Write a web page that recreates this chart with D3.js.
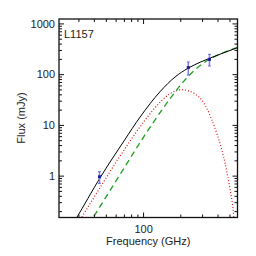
<!DOCTYPE html>
<html><head><meta charset="utf-8">
<script src="https://cdn.jsdelivr.net/npm/d3@7"></script>
<style>body{margin:0;background:#fff}svg{display:block}text{font-family:"Liberation Sans",Arial,sans-serif;fill:#222}</style>
</head><body><svg id="c" width="256" height="256"></svg>
<script>
// Data
const totalFreq = [25, 28.4, 44.5, 69.5, 93.7, 136, 180, 229, 287, 345, 440, 582];
const totalFlux = [0.087, 0.144, 0.93, 4.95, 14.6, 46.3, 90.2, 134, 176, 212, 267, 344];
const coldFreq = [29, 31, 78.8, 102.8, 136, 164, 204, 231, 261, 296, 325, 357, 391, 430, 457, 477, 502, 527, 545];
const coldFlux = [0.111, 0.144, 5.13, 12.7, 28.6, 42.4, 50.5, 48.0, 41.5, 31.6, 21.7, 12.7, 6.96, 3.26, 1.78, 1.05, 0.53, 0.248, 0.1];
const warmFreq = [36, 38.5, 64.5, 93.7, 120, 164, 210, 261, 345, 440, 582];
const warmFlux = [0.111, 0.144, 1.075, 4.6, 11.5, 33.8, 72.8, 125, 204, 270, 347];
const obsFreq = [44, 230, 341];
const obsFlux = [0.97, 138, 200];
const obsErr = [0.25, 40, 52];
const xMajor = [100];
const xMinor = [30, 40, 50, 60, 70, 80, 90, 200, 300, 400, 500];
const yMajor = [1, 10, 100, 1000];
const yMinor = [0.2,0.3,0.4,0.5,0.6,0.7,0.8,0.9,2,3,4,5,6,7,8,9,20,30,40,50,60,70,80,90,200,300,400,500,600,700,800,900];
const sourceName = "L1157";

const L = 59, R = 237.5, T = 19, B = 217.5;
const x = d3.scaleLog().domain([20.7, 575]).range([L, R]);
const y = d3.scaleLog().domain([0.153, 1250]).range([B, T]);
const svg = d3.select("#c");

svg.append("clipPath").attr("id","clip").append("rect")
  .attr("x", L).attr("y", T).attr("width", R-L).attr("height", B-T);

const line = d3.line().x(d => x(d[0])).y(d => y(d[1])).curve(d3.curveMonotoneX);
const g = svg.append("g").attr("clip-path","url(#clip)");
g.append("path").datum(d3.zip(coldFreq, coldFlux)).attr("d", line)
  .attr("fill","none").attr("stroke","#e01010").attr("stroke-width",1.2).attr("stroke-dasharray","1,2");
g.append("path").datum(d3.zip(warmFreq, warmFlux)).attr("d", line)
  .attr("fill","none").attr("stroke","#1fa01f").attr("stroke-width",1.3).attr("stroke-dasharray","6,4");
g.append("path").datum(d3.zip(totalFreq, totalFlux)).attr("d", line)
  .attr("fill","none").attr("stroke","#000").attr("stroke-width",1);

// error bars and points
const pts = obsFreq.map((f,i)=>({f, v:obsFlux[i], e:obsErr[i]}));
const eb = svg.append("g");
pts.forEach(p => {
  const px = x(p.f);
  eb.append("line").attr("x1",px).attr("x2",px).attr("y1",y(p.v+p.e)).attr("y2",y(p.v-p.e))
    .attr("stroke","#7f7fe0").attr("stroke-width",1.5);
  [p.v+p.e, p.v-p.e].forEach(v => eb.append("line").attr("x1",px-1.5).attr("x2",px+1.5)
    .attr("y1",y(v)).attr("y2",y(v)).attr("stroke","#6a6ad8").attr("stroke-width",1));
  eb.append("rect").attr("x",px-1.5).attr("y",y(p.v)-1.5).attr("width",3).attr("height",3).attr("fill","#1c1c9c");
});

// frame and ticks
const ax = svg.append("g").attr("stroke","#111");
ax.append("rect").attr("x",L).attr("y",T).attr("width",R-L).attr("height",B-T)
  .attr("fill","none").attr("stroke-width",1.3);
function xt(v, len){
  ax.append("line").attr("x1",x(v)).attr("x2",x(v)).attr("y1",B).attr("y2",B-len).attr("stroke-width",1);
  ax.append("line").attr("x1",x(v)).attr("x2",x(v)).attr("y1",T).attr("y2",T+len).attr("stroke-width",1);
}
function yt(v, len){
  ax.append("line").attr("y1",y(v)).attr("y2",y(v)).attr("x1",L).attr("x2",L+len).attr("stroke-width",1);
  ax.append("line").attr("y1",y(v)).attr("y2",y(v)).attr("x1",R).attr("x2",R-len).attr("stroke-width",1);
}
xMajor.forEach(v=>xt(v,5)); xMinor.forEach(v=>xt(v,3));
yMajor.forEach(v=>yt(v,5)); yMinor.forEach(v=>yt(v,3));

// labels
xMajor.forEach(v => svg.append("text").attr("x",x(v)).attr("y",B+15).attr("text-anchor","middle")
  .attr("font-size",11).text(d3.format("d")(v)));
yMajor.forEach(v => svg.append("text").attr("x",L-4).attr("y",y(v)+3.8).attr("text-anchor","end")
  .attr("font-size",11).text(d3.format("d")(v)));
svg.append("text").attr("x",(L+R)/2).attr("y",245).attr("text-anchor","middle").attr("font-size",11)
  .text("Frequency (GHz)");
svg.append("text").attr("transform","translate(24.5,118) rotate(-90)").attr("text-anchor","middle")
  .attr("font-size",11).text("Flux (mJy)");
svg.append("text").attr("x",64).attr("y",38.3).attr("font-size",11).text(sourceName);
</script></body></html>
